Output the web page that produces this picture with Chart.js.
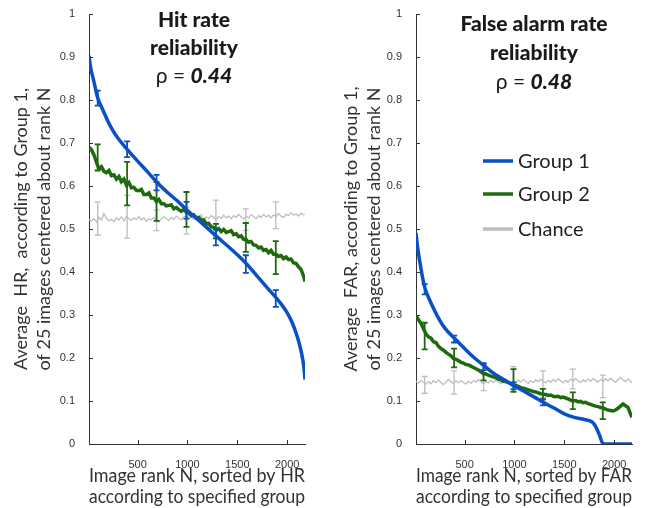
<!DOCTYPE html>
<html>
<head>
<meta charset="utf-8">
<script src="https://cdn.jsdelivr.net/npm/chart.js@4.4.0/dist/chart.umd.min.js"></script>
<style>
    html, body { margin: 0; padding: 0; background: #fff; }
    .panel { position: absolute; top: 0; height: 508px; }
</style>
</head>
<body>
<div class="panel" style="left:0;width:330px"><canvas id="hrChart"></canvas></div>
<div class="panel" style="left:330px;width:327px"><canvas id="farChart"></canvas></div>
<script>
// image rank N for the noisy curves
const noisyRanks = [
    13, 38, 63, 88, 113, 138, 163, 188, 213, 238, 263, 288, 313, 338, 363, 388, 413, 438, 463, 488,
    513, 538, 563, 588, 613, 638, 663, 688, 713, 738, 763, 788, 813, 838, 863, 888, 913, 938, 963, 988,
    1013, 1038, 1063, 1088, 1113, 1138, 1163, 1188, 1213, 1238, 1263, 1288, 1313, 1338, 1363, 1388, 1413, 1438, 1463, 1488,
    1513, 1538, 1563, 1588, 1613, 1638, 1663, 1688, 1713, 1738, 1763, 1788, 1813, 1838, 1863, 1888, 1913, 1938, 1963, 1988,
    2013, 2038, 2063, 2088, 2113, 2138, 2163, 2178
];

// Hit rate panel
const hrGroup1Ranks = [13, 30, 60, 100, 150, 200, 250, 300, 400, 500, 600, 700, 800, 900, 1000, 1100, 1200, 1300, 1400, 1500, 1600, 1700, 1800, 1900, 2000, 2050, 2100, 2130, 2155, 2170, 2178];
const hrGroup1 = [0.903, 0.875, 0.845, 0.805, 0.778, 0.752, 0.730, 0.712, 0.684, 0.658, 0.633, 0.607, 0.585, 0.565, 0.543, 0.523, 0.502, 0.481, 0.461, 0.440, 0.417, 0.390, 0.363, 0.337, 0.305, 0.282, 0.250, 0.225, 0.197, 0.172, 0.150];
const hrGroup2 = [
    0.690, 0.684, 0.672, 0.655, 0.640, 0.645, 0.634, 0.631, 0.636, 0.624, 0.626, 0.616, 0.622, 0.610, 0.616, 0.602, 0.608, 0.596, 0.597, 0.590,
    0.589, 0.592, 0.580, 0.580, 0.584, 0.572, 0.572, 0.564, 0.569, 0.559, 0.559, 0.554, 0.555, 0.556, 0.547, 0.550, 0.545, 0.541, 0.546, 0.539,
    0.537, 0.531, 0.533, 0.526, 0.527, 0.520, 0.521, 0.512, 0.513, 0.505, 0.504, 0.497, 0.501, 0.494, 0.499, 0.492, 0.494, 0.496, 0.487, 0.489,
    0.482, 0.484, 0.476, 0.475, 0.469, 0.471, 0.463, 0.462, 0.456, 0.458, 0.450, 0.452, 0.445, 0.450, 0.441, 0.441, 0.436, 0.438, 0.431, 0.435,
    0.429, 0.430, 0.421, 0.420, 0.412, 0.406, 0.391, 0.378
];
const hrChance = [
    0.522, 0.519, 0.524, 0.516, 0.527, 0.521, 0.536, 0.525, 0.519, 0.523, 0.517, 0.526, 0.521, 0.528, 0.519, 0.530, 0.524, 0.520, 0.526, 0.522,
    0.529, 0.521, 0.526, 0.518, 0.524, 0.521, 0.527, 0.520, 0.516, 0.523, 0.529, 0.524, 0.520, 0.527, 0.522, 0.530, 0.525, 0.521, 0.528, 0.531,
    0.524, 0.528, 0.522, 0.530, 0.526, 0.533, 0.521, 0.528, 0.524, 0.531, 0.527, 0.522, 0.529, 0.525, 0.532, 0.526, 0.530, 0.524, 0.531, 0.527,
    0.534, 0.528, 0.523, 0.530, 0.526, 0.533, 0.529, 0.524, 0.531, 0.527, 0.534, 0.528, 0.532, 0.526, 0.533, 0.529, 0.536, 0.530, 0.527, 0.534,
    0.531, 0.538, 0.532, 0.535, 0.530, 0.537, 0.533, 0.535
];

// False alarm rate panel
const farGroup1Ranks = [13, 25, 40, 60, 80, 106, 150, 200, 250, 300, 406, 500, 600, 706, 800, 900, 1000, 1100, 1200, 1290, 1400, 1500, 1600, 1700, 1780, 1810, 1850, 1890, 2000, 2178];
const farGroup1 = [0.491, 0.465, 0.440, 0.412, 0.385, 0.360, 0.335, 0.310, 0.288, 0.270, 0.244, 0.222, 0.200, 0.180, 0.163, 0.149, 0.135, 0.122, 0.109, 0.097, 0.083, 0.070, 0.062, 0.057, 0.051, 0.042, 0.022, 0, 0, 0];
const farGroup2 = [
    0.298, 0.289, 0.281, 0.268, 0.256, 0.249, 0.246, 0.238, 0.236, 0.227, 0.222, 0.218, 0.213, 0.209, 0.205, 0.199, 0.197, 0.194, 0.190, 0.188,
    0.185, 0.184, 0.181, 0.178, 0.175, 0.172, 0.168, 0.164, 0.163, 0.160, 0.158, 0.156, 0.154, 0.151, 0.149, 0.146, 0.145, 0.143, 0.140, 0.137,
    0.136, 0.134, 0.131, 0.130, 0.128, 0.126, 0.124, 0.122, 0.121, 0.119, 0.117, 0.116, 0.115, 0.113, 0.114, 0.111, 0.110, 0.111, 0.108, 0.109,
    0.107, 0.105, 0.102, 0.100, 0.101, 0.098, 0.099, 0.096, 0.097, 0.094, 0.092, 0.090, 0.088, 0.087, 0.085, 0.084, 0.081, 0.079, 0.078, 0.077,
    0.079, 0.083, 0.088, 0.093, 0.089, 0.085, 0.070, 0.062
];
const farChance = [
    0.146, 0.141, 0.148, 0.143, 0.139, 0.145, 0.140, 0.147, 0.142, 0.149, 0.143, 0.138, 0.144, 0.150, 0.145, 0.141, 0.147, 0.142, 0.148, 0.143,
    0.139, 0.146, 0.141, 0.147, 0.144, 0.150, 0.145, 0.140, 0.146, 0.142, 0.148, 0.143, 0.149, 0.144, 0.140, 0.146, 0.151, 0.145, 0.141, 0.147,
    0.143, 0.149, 0.144, 0.150, 0.146, 0.141, 0.147, 0.143, 0.149, 0.145, 0.151, 0.146, 0.142, 0.148, 0.144, 0.150, 0.145, 0.152, 0.147, 0.142,
    0.148, 0.144, 0.151, 0.146, 0.152, 0.147, 0.143, 0.149, 0.145, 0.151, 0.146, 0.152, 0.148, 0.144, 0.150, 0.146, 0.152, 0.147, 0.153, 0.148,
    0.144, 0.150, 0.155, 0.149, 0.145, 0.151, 0.146, 0.142
];

// error bars: [low, high] at each errRanks position
const errRanks = [100, 395, 690, 990, 1285, 1585, 1885];
const hrGroup1Err = [[0.787, 0.822], [0.667, 0.704], [0.590, 0.626], [0.524, 0.563], [0.462, 0.499], [0.398, 0.439], [0.319, 0.358]];
const hrGroup2Err = [[0.636, 0.697], [0.555, 0.656], [0.519, 0.609], [0.505, 0.586], [0.478, 0.512], [0.447, 0.514], [0.395, 0.472]];
const hrChanceErr = [[0.486, 0.563], [0.479, 0.578], [0.496, 0.544], [0.488, 0.551], [0.482, 0.567], [0.497, 0.547], [0.501, 0.563]];
const farGroup1Err = [[0.348, 0.372], [0.236, 0.252], [0.172, 0.188], [0.127, 0.143], [0.090, 0.104], null, null];
const farGroup2Err = [[0.220, 0.282], [0.178, 0.222], [0.148, 0.185], [0.121, 0.174], [0.104, 0.128], [0.081, 0.120], [0.058, 0.097]];
const farChanceErr = [[0.118, 0.157], [0.116, 0.170], [0.124, 0.166], [0.135, 0.180], [0.108, 0.170], [0.128, 0.174], [0.108, 0.160]];

const xTicks = [500, 1000, 1500, 2000];
const seriesNames = ['Group 1', 'Group 2', 'Chance'];
const seriesColors = ['#0b4fc6', '#1f6a0f', '#bdbdbd'];

const textFont = 'Lato, "Open Sans", sans-serif';

function points(ranks, values) {
    return ranks.map((r, i) => ({ x: r, y: values[i] }));
}

// vertical error bars with caps, drawn right after their own line
const errorBarPlugin = {
    id: 'errorBars',
    afterDatasetDraw(chart, args) {
        const ds = chart.data.datasets[args.index];
        if (!ds.errors) return;
        const xs = chart.scales.x, ys = chart.scales.y;
        const ctx = chart.ctx;
        ctx.save();
        ctx.strokeStyle = ds.borderColor;
        ctx.lineWidth = ds.errorWidth || 1.8;
        errRanks.forEach((r, i) => {
            const e = ds.errors[i];
            if (!e) return;
            const px = xs.getPixelForValue(r);
            const y1 = ys.getPixelForValue(e[0]);
            const y2 = ys.getPixelForValue(e[1]);
            ctx.beginPath();
            ctx.moveTo(px, y1); ctx.lineTo(px, y2);
            ctx.moveTo(px - 3, y1); ctx.lineTo(px + 3, y1);
            ctx.moveTo(px - 3, y2); ctx.lineTo(px + 3, y2);
            ctx.stroke();
        });
        ctx.restore();
    }
};

// inward tick marks, title block and (optionally) legend
const decorPlugin = {
    id: 'decor',
    afterDraw(chart, args, opts) {
        const ctx = chart.ctx;
        const area = chart.chartArea;
        const xs = chart.scales.x, ys = chart.scales.y;
        ctx.save();
        ctx.strokeStyle = '#333';
        ctx.lineWidth = 1;
        ctx.beginPath();
        ys.ticks.forEach(t => {
            const py = Math.round(ys.getPixelForValue(t.value)) + 0.5;
            ctx.moveTo(area.left, py); ctx.lineTo(area.left + 4, py);
        });
        xs.ticks.forEach(t => {
            const px = Math.round(xs.getPixelForValue(t.value)) + 0.5;
            ctx.moveTo(px, area.bottom); ctx.lineTo(px, area.bottom - 4);
        });
        ctx.stroke();

        // title
        const cx = area.left + opts.titleX;
        ctx.fillStyle = '#1a1a1a';
        ctx.textAlign = 'center';
        ctx.textBaseline = 'alphabetic';
        ctx.font = '900 21px ' + textFont;
        opts.title.forEach((line, i) => ctx.fillText(line, cx, opts.titleY[i]));
        const pre = 'ρ = ';
        ctx.font = '21px ' + textFont;
        const w1 = ctx.measureText(pre).width;
        ctx.font = 'italic 900 21px ' + textFont;
        const w2 = ctx.measureText(opts.rho).width;
        const x0 = cx - (w1 + w2) / 2;
        ctx.textAlign = 'left';
        ctx.font = '21px ' + textFont;
        ctx.fillText(pre, x0, opts.titleY[2]);
        ctx.font = 'italic 900 21px ' + textFont;
        ctx.fillText(opts.rho, x0 + w1, opts.titleY[2]);

        if (opts.legend) {
            ctx.font = '20px ' + textFont;
            ctx.textBaseline = 'middle';
            chart.data.datasets.forEach((ds, i) => {
                const ly = opts.legend.y[i];
                ctx.strokeStyle = ds.borderColor;
                ctx.lineWidth = 3.5;
                ctx.beginPath();
                ctx.moveTo(area.left + opts.legend.x, ly);
                ctx.lineTo(area.left + opts.legend.x + 30, ly);
                ctx.stroke();
                ctx.fillStyle = '#222';
                ctx.fillText(ds.label, area.left + opts.legend.x + 35, ly + 1);
            });
        }
        ctx.restore();
    }
};

function makeChart(canvasId, cfg) {
    return new Chart(document.getElementById(canvasId), {
        type: 'line',
        data: {
            datasets: [
                { label: seriesNames[0], data: points(cfg.g1Ranks, cfg.g1), borderColor: seriesColors[0], borderWidth: 3.5, cubicInterpolationMode: 'monotone', errors: cfg.g1Err },
                { label: seriesNames[1], data: points(noisyRanks, cfg.g2), borderColor: seriesColors[1], borderWidth: 3.5, errors: cfg.g2Err },
                { label: seriesNames[2], data: points(noisyRanks, cfg.chance), borderColor: seriesColors[2], borderWidth: 1.3, errors: cfg.chanceErr, errorWidth: 1.3 },
            ]
        },
        options: {
            responsive: true,
            maintainAspectRatio: false,
            animation: false,
            layout: { padding: { left: 0, right: 25, top: 14, bottom: 0 } },
            elements: { point: { radius: 0 }, line: { tension: 0 } },
            plugins: {
                legend: { display: false },
                tooltip: { enabled: false },
                decor: cfg.decor,
            },
            scales: {
                x: {
                    type: 'linear',
                    min: 13,
                    max: 2178,
                    afterBuildTicks: (s) => { s.ticks = xTicks.map(v => ({ value: v })); },
                    afterFit: (s) => { s.height = 64; },
                    grid: { display: false },
                    border: { display: true, color: '#333', width: 1 },
                    ticks: { color: '#333', padding: 6, maxRotation: 0, font: { family: 'Liberation Sans', size: 11 }, callback: v => String(v) },
                    title: {
                        display: true,
                        text: cfg.xTitle,
                        color: '#333',
                        font: { family: textFont, size: 18.5, lineHeight: 1.12 },
                        padding: { top: 0, bottom: 1 },
                    },
                },
                y: {
                    min: 0,
                    max: 1,
                    afterFit: (s) => { s.width = cfg.yWidth; },
                    grid: { display: false },
                    border: { display: true, color: '#333', width: 1 },
                    ticks: { stepSize: 0.1, color: '#333', padding: 6, font: { family: 'Liberation Sans', size: 11 }, callback: v => String(Math.round(v * 10) / 10) },
                    title: {
                        display: true,
                        text: cfg.yTitle,
                        color: '#333',
                        font: { family: textFont, size: 18, lineHeight: 1.28 },
                        padding: { top: 10, bottom: 0 },
                    },
                },
            },
        },
        plugins: [errorBarPlugin, decorPlugin],
    });
}

makeChart('hrChart', {
    g1Ranks: hrGroup1Ranks, g1: hrGroup1, g2: hrGroup2, chance: hrChance,
    g1Err: hrGroup1Err, g2Err: hrGroup2Err, chanceErr: hrChanceErr,
    yWidth: 89,
    xTitle: ['Image rank N, sorted by HR', 'according to specified group'],
    yTitle: ['Average  HR,  according to Group 1,', 'of 25 images centered about rank N'],
    decor: { title: ['Hit rate', 'reliability'], rho: '0.44', titleX: 105, titleY: [27, 55, 82.5] },
});

makeChart('farChart', {
    g1Ranks: farGroup1Ranks, g1: farGroup1, g2: farGroup2, chance: farChance,
    g1Err: farGroup1Err, g2Err: farGroup2Err, chanceErr: farChanceErr,
    yWidth: 86,
    xTitle: ['Image rank N, sorted by FAR', 'according to specified group'],
    yTitle: ['Average  FAR, according to Group 1,', 'of 25 images centered about rank N'],
    decor: {
        title: ['False alarm rate', 'reliability'], rho: '0.48', titleX: 118, titleY: [31, 60, 89],
        legend: { x: 67, y: [161, 194, 229] },
    },
});
</script>
</body>
</html>
